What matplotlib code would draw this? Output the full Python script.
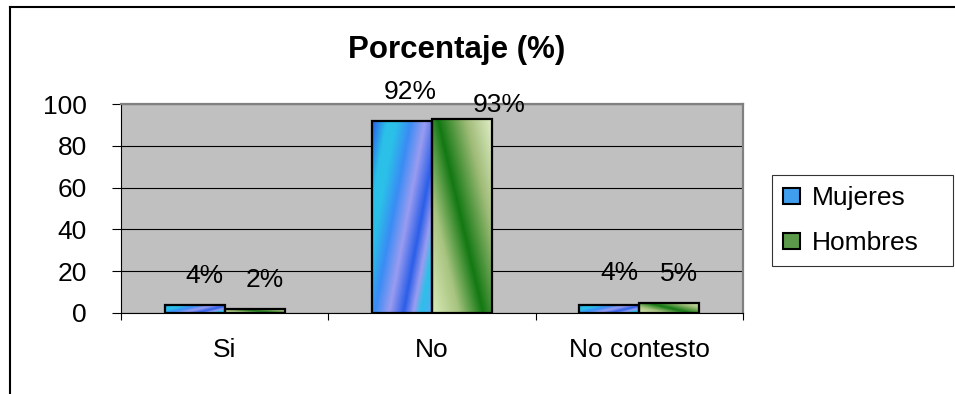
# Porcentaje (%) - grouped bars, Excel style with gradient fills

import numpy as np
import matplotlib
matplotlib.use('Agg')
import matplotlib.pyplot as plt
from matplotlib.colors import LinearSegmentedColormap
from matplotlib.patches import Patch
from matplotlib.lines import Line2D

# Data
categories = ['Si', 'No', 'No contesto']
mujeres = [4, 92, 4]
hombres = [2, 93, 5]
series_names = ['Mujeres', 'Hombres']
yticks = [0, 20, 40, 60, 80, 100]

# Label offsets in pixels (dx, dy) from bar top centre, as placed in the original
label_offsets = [[(10, 29), (10, 29)],
                 [(8, 29), (37, 14)],
                 [(10, 32), (10, 29)]]

plt.rcParams['font.family'] = ['Liberation Sans', 'DejaVu Sans']
FS = 19

fig = plt.figure(figsize=(9.55, 3.94), dpi=100, facecolor='white')
W, H = 955.0, 394.0
ax = fig.add_axes([121/W, 1-313/H, 622/W, 209/H])
ax.set_facecolor('#c0c0c0')

# Gradient colour maps for the fills
cm_muj = LinearSegmentedColormap.from_list('muj', [
    (0.00, '#2a5ee8'), (0.15, '#2bc0e8'), (0.25, '#2bc0e8'), (0.40, '#3a8cf5'),
    (0.55, '#9a9cf0'), (0.70, '#2a5ee8'), (0.80, '#9a9cf0'), (0.88, '#2bc0e8'),
    (1.00, '#5aa8f8')])
cm_hom = LinearSegmentedColormap.from_list('hom', [
    (0.00, '#d8eab8'), (0.25, '#a8c480'), (0.48, '#127812'), (0.75, '#a0bc78'),
    (1.00, '#e2efca')])

x = np.arange(len(categories))
bw = 0.29
bars_m = ax.bar(x - bw/2, mujeres, bw, facecolor='none', edgecolor='black', lw=1.6, zorder=3)
bars_h = ax.bar(x + bw/2, hombres, bw, facecolor='none', edgecolor='black', lw=1.6, zorder=3)

u = np.linspace(0, 1, 80)[None, :]
v = np.linspace(0, 1, 200)[:, None]
grad_m = (u - 0.6 * v + 0.6) / 1.6
grad_h = (u + 0.75 * v) / 1.75
for bars, grad, cm in [(bars_m, grad_m, cm_muj), (bars_h, grad_h, cm_hom)]:
    for r in bars:
        x0, y0, w, h = r.get_x(), r.get_y(), r.get_width(), r.get_height()
        ax.imshow(grad, extent=[x0, x0 + w, y0, y0 + h], origin='lower',
                  cmap=cm, vmin=0, vmax=1, aspect='auto', zorder=2,
                  interpolation='bilinear')

ax.set_xlim(-0.5, len(categories) - 0.5)
ax.set_ylim(0, 100)

# Value labels
for i in range(len(categories)):
    for j, (bars, vals) in enumerate([(bars_m, mujeres), (bars_h, hombres)]):
        r = bars[i]
        dx, dy = label_offsets[i][j]
        ax.annotate('%d%%' % vals[i], (r.get_x() + r.get_width()/2, r.get_height()),
                    xytext=(dx*0.72, dy*0.72), textcoords='offset points',
                    ha='center', va='center', fontsize=FS, zorder=4)

# Grid and axes
ax.set_yticks(yticks)
ax.yaxis.grid(True, color='black', lw=0.8)
ax.set_axisbelow(True)
ax.set_xticks(np.arange(len(categories) + 1) - 0.5)
ax.set_xticklabels([])
ax.set_xticks(x, minor=True)
ax.set_xticklabels(categories, minor=True)
ax.tick_params(axis='x', which='major', direction='out', length=5, width=0.8)
ax.tick_params(axis='x', which='minor', length=0, pad=18, labelsize=FS)
ax.tick_params(axis='y', direction='out', length=6.5, width=0.8, pad=18, labelsize=FS)
for s in ['left', 'bottom']:
    ax.spines[s].set_color('black')
    ax.spines[s].set_linewidth(0.8)
for s in ['top', 'right']:
    ax.spines[s].set_color('#808080')
    ax.spines[s].set_linewidth(1.6)

# Title
fig.text(457/W, 1-50/H, 'Porcentaje (%)', ha='center', va='center',
         fontsize=22.5, fontweight='bold')

# Legend, stretched to the box width of the original
handles = [Patch(facecolor='#3f9fee', edgecolor='black', lw=1.5),
           Patch(facecolor='#5a9a48', edgecolor='black', lw=1.5)]
leg = fig.legend(handles, series_names, loc='upper left', mode='expand',
                 bbox_to_anchor=(772/W, 1-265/H, 181/W, 90/H), fontsize=FS,
                 frameon=True, fancybox=False, edgecolor='black',
                 handlelength=0.65, handleheight=0.55, handletextpad=0.45,
                 labelspacing=0.8, borderpad=0.42, borderaxespad=0)
leg.get_frame().set_linewidth(0.8)

# Outer chart frame
fig.add_artist(Line2D([10/W, 10/W], [0, 1-7/H], transform=fig.transFigure,
                      color='black', lw=1.5))
fig.add_artist(Line2D([10/W, 1], [1-7/H, 1-7/H], transform=fig.transFigure,
                      color='black', lw=1.5))

fig.savefig('out.png', dpi=100, facecolor='white')
